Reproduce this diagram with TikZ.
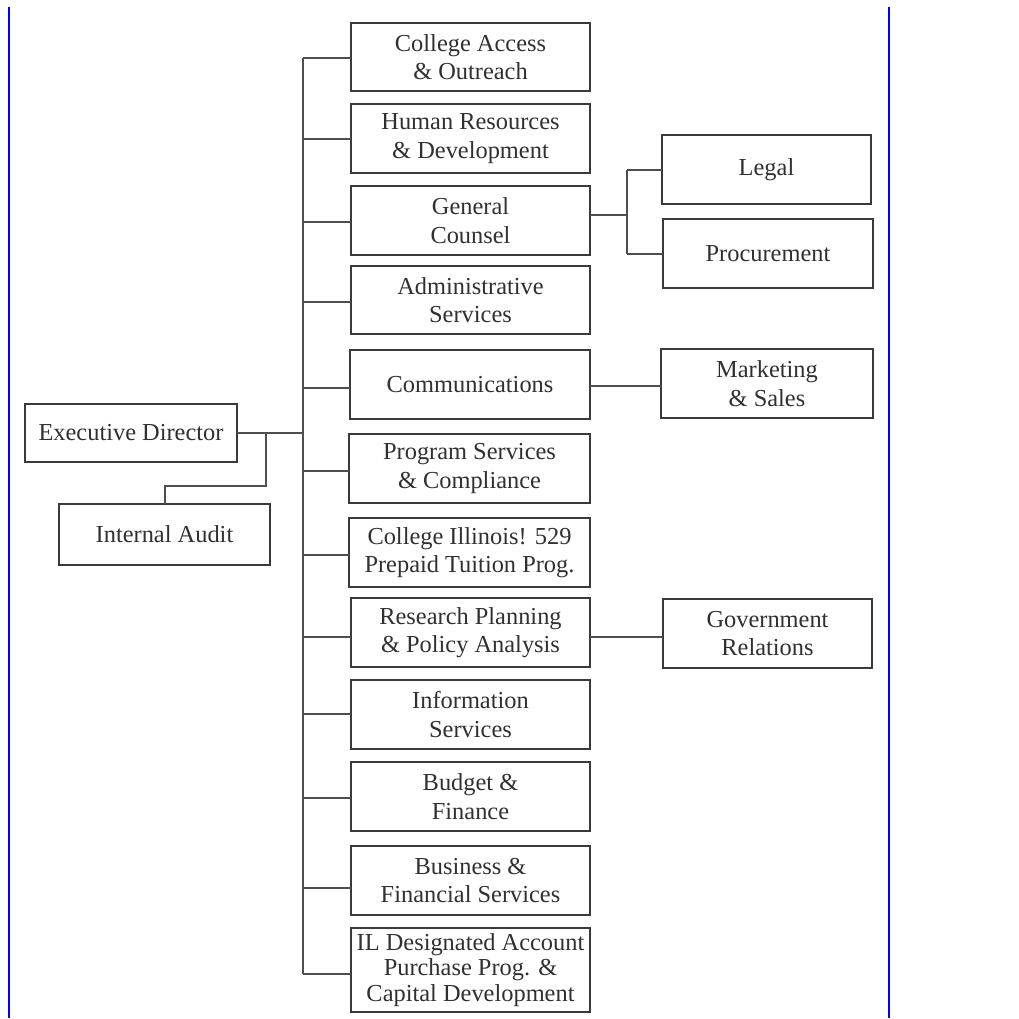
\documentclass[tikz,border=0pt]{standalone}
\usepackage{fontspec}
\setmainfont{Liberation Serif}
\definecolor{boxline}{HTML}{3A3A3A}
\definecolor{conline}{HTML}{4E4E4E}
\definecolor{txt}{HTML}{303030}
\newcommand\bx[7][]{\node[box, #1, minimum width={(#5-#3)*0.75pt}, minimum height={(#6-#4)*0.75pt}] (#2) at ({(#3+#5)/2},{(#4+#6)/2}) {#7};}
\begin{document}
\begin{tikzpicture}[x=0.75pt,y=-0.75pt,
  box/.style={draw=boxline, line width=1.5pt, inner sep=0pt, outer sep=0pt, align=center,
    text=txt, font=\fontsize{18.3}{21.3}\selectfont},
  tight/.style={font=\fontsize{18.3}{18.9}\selectfont},
  conn/.style={draw=conline, line width=1.5pt},
  frameline/.style={draw=blue, line width=1.2pt}]
\useasboundingbox (0,0) rectangle (1019,1018);
% frame lines
\draw[frameline] (9,7) -- (9,1018);
\draw[frameline] (889,7) -- (889,1018);
% left nodes
\bx{ed}{25}{404}{237}{462}{Executive Director}
\bx{ia}{59}{504}{270}{565}{Internal Audit}
% column nodes
\bx{ca}{351}{23}{590}{91}{College Access\\\& Outreach}
\bx{hr}{351}{104}{590}{173}{Human Resources\\\& Development}
\bx{gc}{351}{186}{590}{255}{General\\Counsel}
\bx{as}{351}{266}{590}{334}{Administrative\\Services}
\bx{co}{350}{350}{590}{419}{Communications}
\bx{ps}{349}{434}{590}{503}{Program Services\\\& Compliance}
\bx{ci}{349}{518}{590}{587}{College Illinois! 529\\Prepaid Tuition Prog.}
\bx{rp}{351}{598}{590}{667}{Research Planning\\\& Policy Analysis}
\bx{is}{351}{680}{590}{749}{Information\\Services}
\bx{bf}{351}{762}{590}{831}{Budget \&\\Finance}
\bx{bs}{351}{846}{590}{915}{Business \&\\Financial Services}
\bx[tight]{il}{351}{928}{590}{1012}{IL Designated Account\\Purchase Prog. \&\\Capital Development}
% right nodes
\bx{lg}{662}{135}{871}{204}{Legal}
\bx{pr}{663}{219}{873}{288}{Procurement}
\bx{ms}{661}{349}{873}{418}{Marketing\\\& Sales}
\bx{gr}{663}{599}{872}{668}{Government\\Relations}
% trunk coordinates
\coordinate (ttop) at (303,57.5);
\coordinate (tbot) at (303,974);
\coordinate (tmid) at (303,433);
\coordinate (ab) at (266,433);
\coordinate (gcj) at (627,215);
% connectors
\draw[conn] (ttop) -- (tbot);
\draw[conn] (ed.east |- tmid) -- (tmid);
\draw[conn] (ab) -- ++(0,53) -| (ia.north);
\foreach \n/\yy in {ca/57.5, hr/139, gc/222, as/302, co/388, ps/471, ci/555, rp/636.5, is/714, bf/798, bs/888, il/974}
  \draw[conn] (303,\yy) -- (\n.west |- 303,\yy);
\draw[conn] (gc.east |- gcj) -- (gcj);
\draw[conn] (gcj |- 0,170) -- (gcj |- 0,254);
\draw[conn] (gcj |- 0,170) -- (lg.west |- 0,170);
\draw[conn] (gcj |- 0,254) -- (pr.west |- 0,254);
\draw[conn] (co.east |- 0,386) -- (ms.west |- 0,386);
\draw[conn] (rp.east |- 0,636.5) -- (gr.west |- 0,636.5);
\end{tikzpicture}
\end{document}
